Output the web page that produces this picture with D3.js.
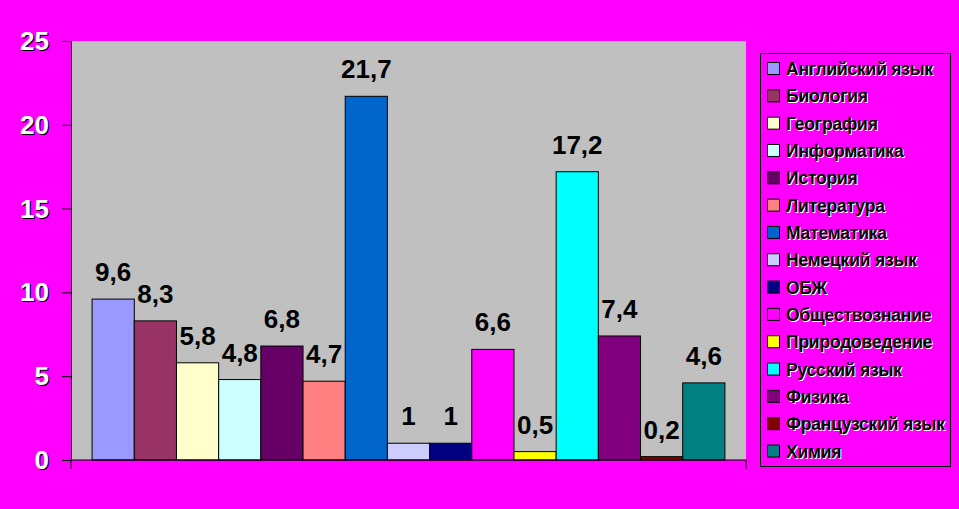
<!DOCTYPE html>
<html>
<head>
<meta charset="utf-8">
<script src="https://cdn.jsdelivr.net/npm/d3@7"></script>
<style>
  html, body { margin: 0; padding: 0; background: #ff00ff; }
  svg { display: block; font-family: "Liberation Sans", Arial, sans-serif; }
</style>
</head>
<body>
<div id="chart"></div>
<script>
var subjects = ["Английский язык", "Биология", "География", "Информатика", "История",
  "Литература", "Математика", "Немецкий язык", "ОБЖ", "Обществознание",
  "Природоведение", "Русский язык", "Физика", "Французский язык", "Химия"];
var values = [9.6, 8.3, 5.8, 4.8, 6.8, 4.7, 21.7, 1, 1, 6.6, 0.5, 17.2, 7.4, 0.2, 4.6];
var colors = ["#9999ff", "#993366", "#ffffcc", "#ccffff", "#660066",
  "#ff8080", "#0066cc", "#ccccff", "#000080", "#ff00ff",
  "#ffff00", "#00ffff", "#800080", "#800000", "#008080"];
var yTicks = [0, 5, 10, 15, 20, 25];

var W = 959, H = 509;
var plot = {left: 71, top: 41, right: 746, bottom: 460};

var svg = d3.select("#chart").append("svg")
  .attr("width", W)
  .attr("height", H);

svg.append("rect")
  .attr("width", W)
  .attr("height", H)
  .attr("fill", "#ff00ff");

/* one category, fifteen series: bars share the band, half a bar of gap on each side */
var x = d3.scaleBand()
  .domain(subjects)
  .range([plot.left, plot.right])
  .paddingOuter(0.5)
  .paddingInner(0);

var y = d3.scaleLinear()
  .domain([0, 25])
  .range([plot.bottom, plot.top]);

svg.append("rect")
  .attr("x", plot.left)
  .attr("y", plot.top)
  .attr("width", plot.right - plot.left)
  .attr("height", plot.bottom - plot.top)
  .attr("fill", "#c0c0c0");

var data = subjects.map(function(s, i) {
  return {name: s, value: values[i], color: colors[i]};
});

svg.append("g").selectAll("rect")
  .data(data)
  .join("rect")
    .attr("x", function(d) { return x(d.name); })
    .attr("y", function(d) { return y(d.value); })
    .attr("width", x.bandwidth())
    .attr("height", function(d) { return y(0) - y(d.value); })
    .attr("fill", function(d) { return d.color; })
    .attr("stroke", "#000")
    .attr("stroke-width", 1);

svg.append("g").selectAll("text")
  .data(data)
  .join("text")
    .attr("x", function(d) { return x(d.name) + x.bandwidth() / 2; })
    .attr("y", function(d) { return y(d.value) - 18; })
    .attr("text-anchor", "middle")
    .attr("font-size", 26)
    .attr("font-weight", "bold")
    .attr("fill", "#000")
    .text(function(d) { return String(d.value).replace(".", ","); });

/* axes */
var yAxis = d3.axisLeft(y).tickValues(yTicks).tickSize(9).tickFormat("");
svg.append("g")
  .attr("transform", "translate(" + plot.left + ",0)")
  .call(yAxis)
  .call(function(g) { g.select(".domain").attr("stroke", "#000"); });

svg.append("line")
  .attr("x1", plot.left).attr("x2", plot.right)
  .attr("y1", plot.bottom).attr("y2", plot.bottom)
  .attr("stroke", "#000");

[plot.left, plot.right].forEach(function(px) {
  svg.append("line")
    .attr("x1", px).attr("x2", px)
    .attr("y1", plot.bottom).attr("y2", plot.bottom + 9)
    .attr("stroke", "#000");
});

/* tick labels: white with a black shadow */
var tl = svg.append("g")
  .attr("font-size", 26)
  .attr("font-weight", "bold")
  .attr("text-anchor", "end");
tl.selectAll("text.sh")
  .data(yTicks)
  .join("text")
    .attr("class", "sh")
    .attr("x", 50)
    .attr("y", function(d) { return y(d) + 10; })
    .attr("fill", "#000")
    .text(function(d) { return d; });
tl.selectAll("text.fg")
  .data(yTicks)
  .join("text")
    .attr("class", "fg")
    .attr("x", 49)
    .attr("y", function(d) { return y(d) + 9; })
    .attr("fill", "#fff")
    .text(function(d) { return d; });

/* legend */
var legend = svg.append("g");
legend.append("rect")
  .attr("x", 760.5)
  .attr("y", 53.5)
  .attr("width", 190)
  .attr("height", 413)
  .attr("fill", "none")
  .attr("stroke", "#000");

var ly = d3.scalePoint()
  .domain(subjects)
  .range([69, 451.5]);

var items = legend.selectAll("g.item")
  .data(data)
  .join("g")
    .attr("class", "item")
    .attr("transform", function(d) { return "translate(0," + ly(d.name) + ")"; });

items.append("rect")
  .attr("x", 767.5)
  .attr("y", -6.5)
  .attr("width", 12)
  .attr("height", 12)
  .attr("fill", function(d) { return d.color; })
  .attr("stroke", "#000");

items.append("text")
  .attr("x", 787)
  .attr("y", 7)
  .attr("font-size", 17.5)
  .attr("font-weight", "bold")
  .attr("letter-spacing", -0.2)
  .attr("fill", "#fff")
  .text(function(d) { return d.name; });

items.append("text")
  .attr("x", 786)
  .attr("y", 6)
  .attr("font-size", 17.5)
  .attr("font-weight", "bold")
  .attr("letter-spacing", -0.2)
  .attr("fill", "#000")
  .text(function(d) { return d.name; });
</script>
</body>
</html>
